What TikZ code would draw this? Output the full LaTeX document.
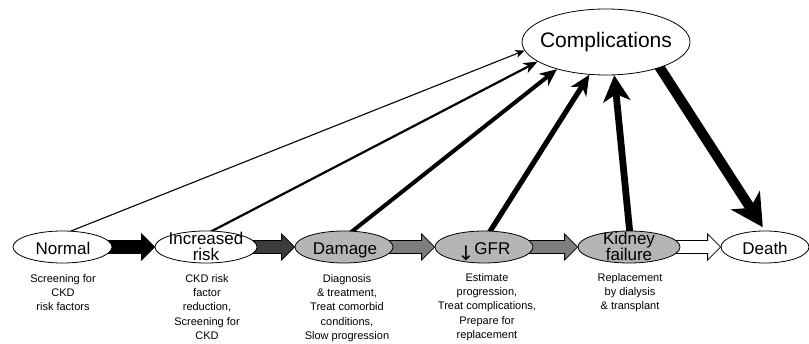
\documentclass[tikz,border=0pt]{standalone}
\usepackage{fontspec}
\setmainfont{Liberation Sans}
\newfontfamily\symfont{DejaVu Sans}
\usetikzlibrary{shapes.geometric, arrows.meta, backgrounds, calc}
\definecolor{stagegray}{HTML}{B5B5B5}
\definecolor{darkblock}{HTML}{3C3C3C}
\definecolor{midblock}{HTML}{7D7D7D}
\newcommand{\blockarrow}[3]{%
  \path[draw=black, line width=0.8pt, fill=#3, line join=miter]
    let \p1=(#1.east), \p2=(#2.west) in
    (\x1-8pt,\y1+6.5pt) -- (\x2-13pt,\y1+6.5pt) -- (\x2-13pt,\y1+13pt) -- (\x2,\y1)
    -- (\x2-13pt,\y1-13pt) -- (\x2-13pt,\y1-6.5pt) -- (\x1-8pt,\y1-6.5pt) -- cycle;}
\tikzset{
  stage/.style={ellipse, draw=black, line width=0.8pt, fill=white, inner sep=0pt,
    minimum width=#1, minimum height=32pt},
  graystage/.style={stage=#1, fill=stagegray},
  stagetext/.style={font=\fontsize{17}{16}\selectfont, align=center, inner sep=0pt},
  note/.style={font=\fontsize{11}{14.4}\selectfont, align=center, anchor=north, inner sep=0pt},
  linkA/.style={line width=1.1pt, -{Stealth[length=9pt, width=8pt, inset=2.5pt]}},
  linkB/.style={line width=2.2pt, -{Stealth[length=14pt, width=11pt, inset=4pt]}},
  linkC/.style={line width=4pt, -{Stealth[length=17pt, width=15pt, inset=5pt]}},
  linkD/.style={line width=5.2pt, -{Stealth[length=20pt, width=18pt, inset=6pt]}},
  linkE/.style={line width=6.8pt, -{Stealth[length=26pt, width=27pt, inset=7pt]}},
  linkF/.style={line width=10pt, -{Stealth[length=32pt, width=34pt, inset=9pt]}},
}
\begin{document}
\begin{tikzpicture}[x=1pt, y=-1pt]
\useasboundingbox (0,0) rectangle (809,344);

% stages
\node[stage=168pt, minimum height=66pt] (comp) at (606,42) {};
\node[stagetext] (compT) at (606,42) {\fontsize{21}{21}\selectfont Complications};

\node[stage=99pt] (normal) at (62.5,247) {};
\node[stagetext, anchor=base] (normalT) at (63,254.5) {Normal};

\node[stage=102pt] (incr) at (206,247) {};
\node[stagetext] (incrT) at (206,246.5) {Increased\\risk};

\node[graystage=98pt] (damage) at (344,247) {};
\node[stagetext, anchor=base] (damageT) at (345,254.5) {Damage};

\node[graystage=98pt] (gfr) at (484,247) {};
\node[stagetext, anchor=base] (gfrT) at (484,254.5) {\raisebox{-6pt}{\symfont\fontsize{20}{20}\selectfont ↓}GFR};

\node[graystage=102pt] (kidney) at (629,247) {};
\node[stagetext] (kidneyT) at (629,246.5) {Kidney\\failure};

\node[stage=88pt] (death) at (765,247) {};
\node[stagetext, anchor=base] (deathT) at (765,254.5) {Death};

% notes
\node[note] (normalN) at (63,274) {Screening for\\CKD\\risk factors};
\node[note] (incrN) at (207,274) {CKD risk\\factor\\reduction,\\Screening for\\CKD};
\node[note] (damageN) at (347,274) {Diagnosis\\\& treatment,\\Treat comorbid\\conditions,\\Slow progression};
\node[note] (gfrN) at (487,273) {Estimate\\progression,\\Treat complications,\\Prepare for\\replacement};
\node[note] (kidneyN) at (630,273) {Replacement\\by dialysis\\\& transplant};

\begin{scope}[on background layer]
  \blockarrow{normal}{incr}{black}
  \blockarrow{incr}{damage}{darkblock}
  \blockarrow{damage}{gfr}{midblock}
  \blockarrow{gfr}{kidney}{midblock}
  \blockarrow{kidney}{death}{white}

  \draw[linkA] ([xshift=2pt,yshift=-3pt]normal.north) -- (comp.186);
  \draw[linkB] ([xshift=1pt,yshift=-3pt]incr.north) -- (comp.196);
  \draw[linkC] ([xshift=4pt,yshift=-4pt]damage.north) -- (comp.209);
  \draw[linkD] ([xshift=4pt,yshift=-4pt]gfr.north) -- (comp.243);
  \draw[linkE] ([xshift=1pt,yshift=-4pt]kidney.north) -- (comp.284);
  \draw[linkF, shorten >=4pt] ([yshift=4pt]comp.333) -- (death.north);
\end{scope}
\end{tikzpicture}
\end{document}
